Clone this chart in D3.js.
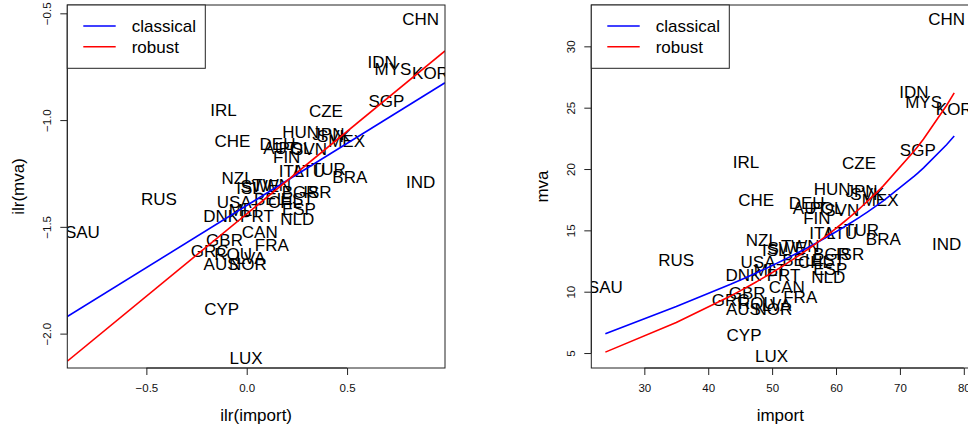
<!DOCTYPE html>
<html>
<head>
<meta charset="utf-8">
<script src="https://cdn.jsdelivr.net/npm/d3@7"></script>
<style>
  html, body { margin: 0; padding: 0; background: #fff; }
  svg { display: block; font-family: "Liberation Sans", Arial, sans-serif; }
</style>
</head>
<body>
<svg id="svg" width="968" height="429"></svg>
<script>
// country codes with import share (%) and manufacturing value added share (%)
var countries = ["CHN","IDN","MYS","KOR","SGP","IRL","CZE","CHE","HUN","JPN","SVK","MEX",
  "DEU","AUT","POL","SVN","FIN","ITA","LTU","TUR","BRA","IND","RUS","NZL","ISL","SWE",
  "TWN","BGR","ISR","USA","BEL","CHL","EST","ESP","DNK","MLT","PRT","NLD","CAN","GBR",
  "GRC","FRA","ROU","LVA","AUS","NOR","SAU","CYP","LUX"];
var importShare = [77.3,72.2,73.7,78.5,72.8,45.9,63.6,47.5,59.4,64.0,64.9,66.9,
  55.4,55.9,58.5,60.9,57.0,57.8,60.9,64.0,67.4,77.3,35.0,48.4,50.4,52.3,
  54.4,59.3,62.2,47.8,54.1,56.7,58.8,59.1,45.5,49.7,51.8,58.8,52.3,46.1,
  43.5,54.4,47.6,50.7,45.5,50.2,23.9,45.6,49.9];
var mvaShare = [32.2,26.3,25.5,24.9,21.6,20.6,20.5,17.5,18.4,18.2,18.0,17.5,
  17.2,16.8,16.8,16.7,16.0,14.8,14.8,15.0,14.3,13.9,12.6,14.2,13.4,13.6,
  13.7,13.1,13.1,12.4,12.6,12.4,12.6,11.9,11.4,11.8,11.4,11.2,10.4,9.9,
  9.3,9.6,9.1,8.9,8.6,8.6,10.4,6.5,4.8];

// regression in ilr space: [intercept, slope]
var fitClassical = [-1.400, 0.582];
var fitRobust = [-1.439, 0.772];
var legendLabels = ["classical", "robust"];
var legendColors = ["#0000ff", "#ff0000"];

var xTicksIlr = [-0.5, 0, 0.5];
var yTicksIlr = [-2, -1.5, -1, -0.5];
var xTicksPct = [30, 40, 50, 60, 70, 80];
var yTicksPct = [5, 10, 15, 20, 25, 30];

var ilr = function(p) { return Math.log(p / (100 - p)) / Math.SQRT2; };
var ilrInv = function(z) { return 100 / (1 + Math.exp(-Math.SQRT2 * z)); };

var svg = d3.select("#svg");
var plotTop = 5, plotBottom = 368;
var fontMain = 17, fontTick = 11.5;

var panels = [
  { id: "L", x: d3.scaleLinear().domain([-0.894, 0.988]).range([67.3, 445]),
    y: d3.scaleLinear().domain([-2.161, -0.461]).range([plotBottom, plotTop]),
    xTicks: xTicksIlr, yTicks: yTicksIlr, fmt: d3.format(".1f"),
    xTitle: "ilr(import)", yTitle: "ilr(mva)", ilrSpace: true },
  { id: "R", x: d3.scaleLinear().domain([21.7, 80.86]).range([591.3, 969.3]),
    y: d3.scaleLinear().domain([3.78, 33.37]).range([plotBottom, plotTop]),
    xTicks: xTicksPct, yTicks: yTicksPct, fmt: d3.format("d"),
    xTitle: "import", yTitle: "mva", ilrSpace: false }
];

var order = d3.range(countries.length).sort(function(a, b) { return importShare[a] - importShare[b]; });

panels.forEach(function(p) {
  var x0 = p.x.range()[0], x1 = p.x.range()[1];
  var g = svg.append("g");

  g.append("clipPath").attr("id", "clip" + p.id)
    .append("rect").attr("x", x0).attr("y", plotTop).attr("width", x1 - x0).attr("height", plotBottom - plotTop);

  var plot = g.append("g").attr("clip-path", "url(#clip" + p.id + ")");

  var px = function(i) { return p.ilrSpace ? p.x(ilr(importShare[i])) : p.x(importShare[i]); };
  var py = function(i) { return p.ilrSpace ? p.y(ilr(mvaShare[i])) : p.y(mvaShare[i]); };

  plot.selectAll("text.lab").data(d3.range(countries.length)).enter()
    .append("text").attr("class", "lab")
    .attr("x", px).attr("y", py).attr("dy", "0.36em")
    .attr("text-anchor", "middle").attr("font-size", fontMain).attr("fill", "#000")
    .text(function(i) { return countries[i]; });

  [fitClassical, fitRobust].forEach(function(fit, k) {
    var pts;
    if (p.ilrSpace) {
      pts = p.x.domain().map(function(v) { return [p.x(v), p.y(fit[0] + fit[1] * v)]; });
    } else {
      pts = order.map(function(i) {
        var z = fit[0] + fit[1] * ilr(importShare[i]);
        return [p.x(importShare[i]), p.y(ilrInv(z))];
      });
    }
    plot.append("path").attr("d", d3.line()(pts))
      .attr("fill", "none").attr("stroke", legendColors[k]).attr("stroke-width", 1.6);
  });

  // axes
  var ax = g.append("g").attr("transform", "translate(0," + plotBottom + ")")
    .call(d3.axisBottom(p.x).tickValues(p.xTicks).tickFormat(p.fmt).tickSize(7).tickSizeOuter(0));
  ax.select(".domain").attr("d", "M" + p.x(p.xTicks[0]) + ",0H" + p.x(p.xTicks[p.xTicks.length - 1]));
  ax.selectAll("text").attr("y", 20).attr("dy", "0.36em").attr("font-size", fontTick)
    .attr("font-family", null).attr("fill", "#111");

  var ay = g.append("g").attr("transform", "translate(" + x0 + ",0)")
    .call(d3.axisLeft(p.y).tickValues(p.yTicks).tickFormat(p.fmt).tickSize(7).tickSizeOuter(0));
  ay.select(".domain").attr("d", "M0," + p.y(p.yTicks[0]) + "V" + p.y(p.yTicks[p.yTicks.length - 1]));
  ay.selectAll("text").attr("x", null).attr("dy", "0.36em").attr("text-anchor", "middle")
    .attr("transform", "translate(-20.6,0) rotate(-90)")
    .attr("font-size", fontTick).attr("font-family", null).attr("fill", "#111");
  g.selectAll(".tick line, .domain").attr("stroke", "#222");

  // box
  g.append("rect").attr("x", x0).attr("y", plotTop).attr("width", x1 - x0).attr("height", plotBottom - plotTop)
    .attr("fill", "none").attr("stroke", "#222").attr("stroke-width", 1);

  // titles
  g.append("text").attr("x", (x0 + x1) / 2).attr("y", 415).attr("dy", "0.36em")
    .attr("text-anchor", "middle").attr("font-size", fontMain).text(p.xTitle);
  g.append("text").attr("transform", "translate(" + (x0 - 49) + "," + ((plotTop + plotBottom) / 2) + ") rotate(-90)")
    .attr("dy", "0.36em").attr("text-anchor", "middle").attr("font-size", fontMain).text(p.yTitle);

  // legend
  var lg = g.append("g").attr("transform", "translate(" + x0 + "," + plotTop + ")");
  lg.append("rect").attr("width", 138).attr("height", 63.3)
    .attr("fill", "#fff").attr("stroke", "#222").attr("stroke-width", 1);
  legendLabels.forEach(function(lab, k) {
    var yy = 21 + k * 20.7;
    lg.append("line").attr("x1", 16).attr("x2", 48.4).attr("y1", yy).attr("y2", yy)
      .attr("stroke", legendColors[k]).attr("stroke-width", 1.6);
    lg.append("text").attr("x", 64.4).attr("y", yy).attr("dy", "0.36em")
      .attr("font-size", fontMain).text(lab);
  });
});
</script>
</body>
</html>
